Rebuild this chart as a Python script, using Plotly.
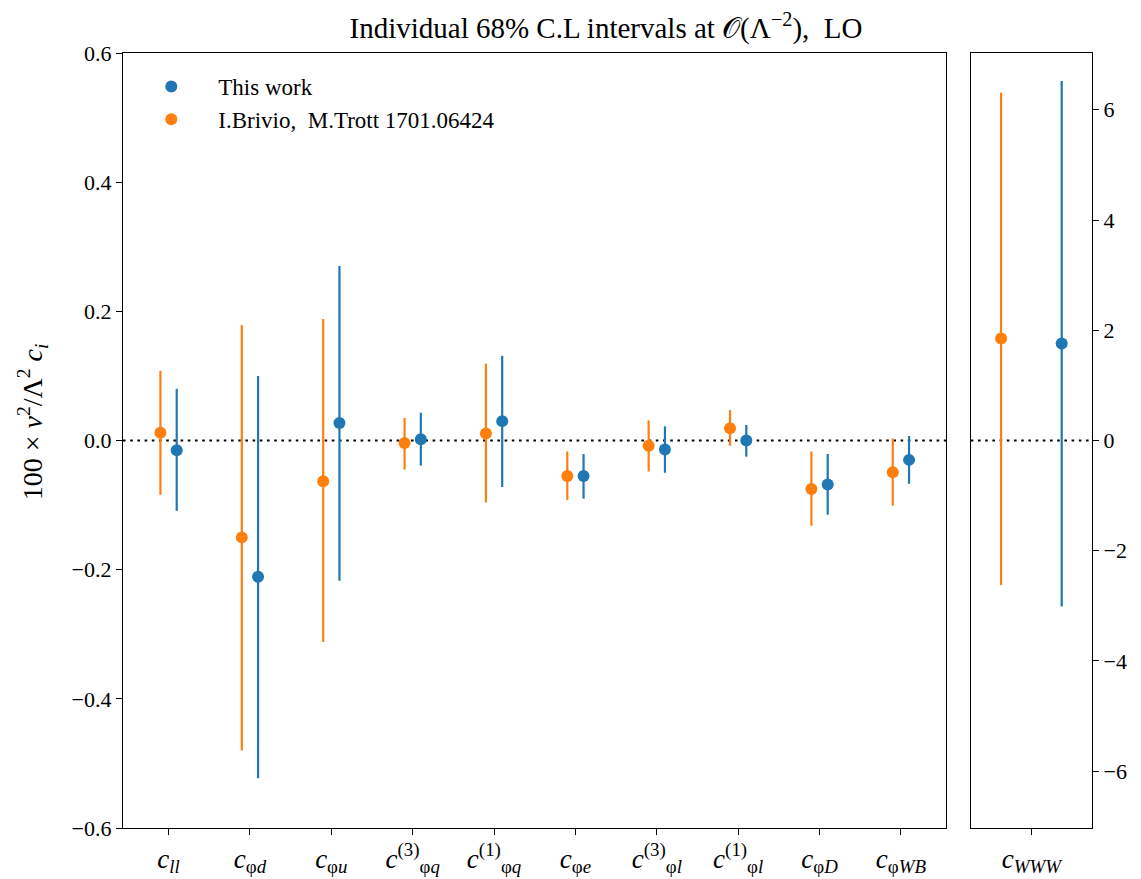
import plotly.graph_objects as go

# ---------------- data ----------------
coef_labels = [
    "<i>c</i><sub><i>ll</i></sub>",
    "<i>c</i><sub>φ<i>d</i></sub>",
    "<i>c</i><sub>φ<i>u</i></sub>",
    "<i>c</i><sup>(3)</sup><sub>φ<i>q</i></sub>",
    "<i>c</i><sup>(1)</sup><sub>φ<i>q</i></sub>",
    "<i>c</i><sub>φ<i>e</i></sub>",
    "<i>c</i><sup>(3)</sup><sub>φ<i>l</i></sub>",
    "<i>c</i><sup>(1)</sup><sub>φ<i>l</i></sub>",
    "<i>c</i><sub>φ<i>D</i></sub>",
    "<i>c</i><sub>φ<i>WB</i></sub>",
]
this_work_central = [-0.015, -0.211, 0.027, 0.002, 0.030, -0.055, -0.014, 0.000, -0.068, -0.030]
this_work_low = [-0.109, -0.523, -0.217, -0.039, -0.072, -0.090, -0.050, -0.025, -0.115, -0.067]
this_work_high = [0.080, 0.100, 0.270, 0.043, 0.131, -0.021, 0.022, 0.024, -0.021, 0.007]

brivio_central = [0.012, -0.150, -0.063, -0.004, 0.011, -0.055, -0.008, 0.019, -0.075, -0.049]
brivio_low = [-0.084, -0.480, -0.312, -0.045, -0.096, -0.092, -0.048, -0.008, -0.132, -0.101]
brivio_high = [0.108, 0.179, 0.188, 0.035, 0.119, -0.017, 0.031, 0.047, -0.017, 0.003]

www_label = ["<i>c</i><sub><i>WWW</i></sub>"]
www_this_central = [1.76]
www_this_low = [-3.01]
www_this_high = [6.52]
www_brivio_central = [1.85]
www_brivio_low = [-2.62]
www_brivio_high = [6.31]

left_ticks = [0.6, 0.4, 0.2, 0.0, -0.2, -0.4, -0.6]
left_ticktext = ["0.6", "0.4", "0.2", "0.0", "−0.2", "−0.4", "−0.6"]
right_ticks = [6, 4, 2, 0, -2, -4, -6]
right_ticktext = ["6", "4", "2", "0", "−2", "−4", "−6"]

series_names = ["This work", "I.Brivio,  M.Trott 1701.06424"]
BLUE = "#1f77b4"
ORANGE = "#ff7f0e"
FONT = "Liberation Serif"
OFFSET = 0.1

# ---------------- figure ----------------
fig = go.Figure()


def add_series(xs, c, lo, hi, color, name, xa, ya, show):
    fig.add_trace(go.Scatter(
        x=xs, y=c, mode="markers", name=name, showlegend=show,
        xaxis=xa, yaxis=ya,
        marker=dict(color=color, size=12),
        error_y=dict(type="data", symmetric=False,
                     array=[h - v for h, v in zip(hi, c)],
                     arrayminus=[v - l for v, l in zip(c, lo)],
                     color=color, thickness=2.2, width=0),
    ))


n = len(coef_labels)
idx = list(range(n))
add_series([i + OFFSET for i in idx], this_work_central, this_work_low, this_work_high,
           BLUE, series_names[0], "x", "y", True)
add_series([i - OFFSET for i in idx], brivio_central, brivio_low, brivio_high,
           ORANGE, series_names[1], "x", "y", True)
add_series([OFFSET], www_this_central, www_this_low, www_this_high,
           BLUE, series_names[0], "x2", "y2", False)
add_series([-OFFSET], www_brivio_central, www_brivio_low, www_brivio_high,
           ORANGE, series_names[1], "x2", "y2", False)

# zero lines
for xr, yr in (("x domain", "y"), ("x2 domain", "y2")):
    fig.add_shape(type="line", xref=xr, yref=yr, x0=0, x1=1, y0=0, y1=0,
                  line=dict(color="black", width=2, dash="2.6px,4.6px"), layer="below")

# page offset (body margin) of 8px is compensated for
OFF = 8
W, H = 1141 - OFF, 879 - OFF
ml = 122.7 - OFF
plot_right = 1092.3 - OFF
mr = W - plot_right
mt = 53 - OFF
mb = H - (828 - OFF)
pw = W - ml - mr
ph = H - mt - mb
main_right = (946.7 - OFF - ml) / pw
side_left = (971 - OFF - ml) / pw

axis_common = dict(showline=True, linecolor="black", linewidth=1.2, mirror=True,
                   ticks="outside", ticklen=6, tickwidth=1.2, tickcolor="black",
                   showgrid=False, zeroline=False)
ytickfont = dict(family=FONT, size=22, color="black")
xtickfont = dict(family=FONT, size=27, color="black")

fig.update_layout(
    width=W, height=H,
    margin=dict(l=ml, r=mr, t=mt, b=mb, autoexpand=False),
    paper_bgcolor="white", plot_bgcolor="white",
    font=dict(family=FONT, color="black"),
    title=dict(text="Individual 68% C.L intervals at 𝒪(Λ<sup>−2</sup>),  LO",
               x=(606 - OFF) / W, xanchor="center", xref="container",
               y=1 - (28 - OFF) / H, yanchor="middle", yref="container",
               font=dict(family=FONT, size=29, color="black")),
    xaxis=dict(domain=[0, main_right], range=[-0.56, n - 1 + 0.56],
               tickvals=idx, ticktext=coef_labels, anchor="y",
               tickfont=xtickfont, **axis_common),
    yaxis=dict(domain=[0, 1], range=[-0.6, 0.6], tickvals=left_ticks,
               ticktext=left_ticktext, anchor="x", tickfont=ytickfont, **axis_common),
    xaxis2=dict(domain=[side_left, 1], range=[-0.2, 0.2], tickvals=[0],
                ticktext=www_label, anchor="y2", tickfont=xtickfont, **axis_common),
    yaxis2=dict(domain=[0, 1], range=[-7.03, 7.03], tickvals=right_ticks,
                ticktext=right_ticktext, anchor="x2", side="right",
                tickfont=ytickfont, **axis_common),
    legend=dict(x=(124 - OFF - ml) / pw, y=1 - (65 - OFF - mt) / ph,
                xanchor="left", yanchor="top",
                bgcolor="rgba(0,0,0,0)", font=dict(family=FONT, size=23, color="black"),
                itemwidth=84, tracegroupgap=8),
    showlegend=True,
)

fig.add_annotation(
    text="100 × <i>v</i><sup>2</sup>/Λ<sup>2</sup> <i>c</i><sub><i>i</i></sub>",
    xref="paper", yref="paper", x=(33 - OFF - ml) / pw, y=(828 - 422) / ph,
    textangle=-90, showarrow=False, xanchor="center", yanchor="middle",
    font=dict(family=FONT, size=28, color="black"),
)

fig.write_html("out.html")
